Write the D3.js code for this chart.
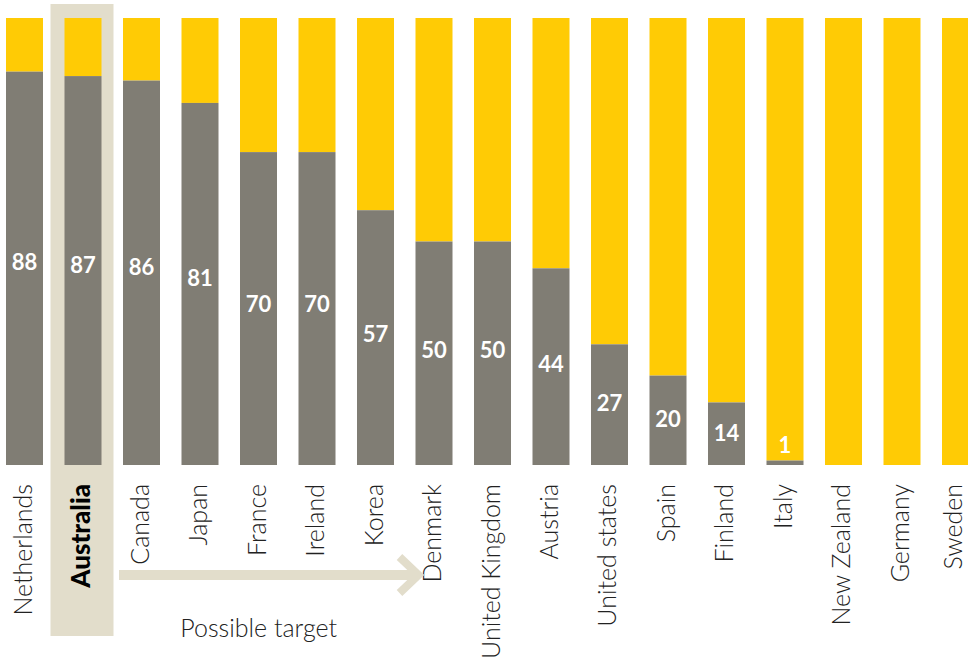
<!DOCTYPE html>
<html>
<head>
<meta charset="utf-8">
<script src="https://cdn.jsdelivr.net/npm/d3@7"></script>
<style>
  html, body { margin: 0; padding: 0; background: #ffffff; overflow: hidden; }
  svg { display: block; }
</style>
</head>
<body>
<svg id="chart" width="968" height="661"></svg>
<script>
// Share of each country's target (grey) and the remainder to 100 (yellow)
const countries = ["Netherlands", "Australia", "Canada", "Japan", "France", "Ireland", "Korea",
  "Denmark", "United Kingdom", "Austria", "United states", "Spain", "Finland", "Italy",
  "New Zealand", "Germany", "Sweden"];
const values = [88, 87, 86, 81, 70, 70, 57, 50, 50, 44, 27, 20, 14, 1, 0, 0, 0];
const highlighted = "Australia";
const arrowFrom = "Canada";
const arrowTo = "Denmark";
const arrowLabel = "Possible target";

const GREY = "#807d74";
const YELLOW = "#ffcb05";
const BEIGE = "#e2ddcb";
const FONT = "Lato, 'Open Sans', sans-serif";
const W = 968;

const svg = d3.select("#chart");

const x = d3.scaleBand()
  .domain(countries)
  .range([6, 979])
  .paddingInner(0.3675)
  .paddingOuter(0);

const y = d3.scaleLinear().domain([0, 100]).range([465, 18]);

const rows = countries.map((c, i) => ({ country: c, value: values[i] }));

// Highlight panel behind the selected country
const hx = x(highlighted);
svg.append("rect")
  .attr("x", hx - 14)
  .attr("y", 4)
  .attr("width", x.bandwidth() + 26)
  .attr("height", 632)
  .attr("fill", BEIGE);

// Remainder (yellow) on top of each bar
svg.append("g").selectAll("rect")
  .data(rows)
  .join("rect")
  .attr("x", d => x(d.country))
  .attr("width", x.bandwidth())
  .attr("y", y(100))
  .attr("height", d => y(d.value) - y(100))
  .attr("fill", YELLOW);

// Value portion (grey)
svg.append("g").selectAll("rect")
  .data(rows.filter(d => d.value > 0))
  .join("rect")
  .attr("x", d => x(d.country))
  .attr("width", x.bandwidth())
  .attr("y", d => y(d.value))
  .attr("height", d => y(0) - y(d.value))
  .attr("fill", GREY);

// Value labels inside the grey portion (or just above it when too short)
svg.append("g").selectAll("text")
  .data(rows.filter(d => d.value > 0))
  .join("text")
  .attr("x", d => x(d.country) + x.bandwidth() / 2)
  .attr("y", d => d.value < 5 ? y(d.value) - 15 : y(d.value) + (y(0) - y(d.value)) * 0.485)
  .attr("dy", "0.36em")
  .attr("text-anchor", "middle")
  .attr("fill", "#ffffff")
  .attr("font-family", FONT)
  .attr("font-weight", 700)
  .attr("font-size", 22)
  .text(d => d.value);

// Rotated category labels (kept inside the drawing area at the right edge)
svg.append("g").selectAll("text")
  .data(countries)
  .join("text")
  .attr("transform", d => `translate(${Math.min(x(d) + x.bandwidth() / 2 - 2, W - 15)},484) rotate(-90)`)
  .attr("dy", "0.36em")
  .attr("text-anchor", "end")
  .attr("fill", d => d === highlighted ? "#000000" : "#222222")
  .attr("font-family", FONT)
  .attr("font-weight", d => d === highlighted ? 900 : 300)
  .attr("font-size", d => d === highlighted ? 26 : 25)
  .text(d => d);

// "Possible target" arrow
const ax0 = x(arrowFrom) - 4;
const ax1 = x(arrowTo) + 3;
const ay = 575;
svg.append("line")
  .attr("x1", ax0).attr("x2", ax1 - 3)
  .attr("y1", ay).attr("y2", ay)
  .attr("stroke", BEIGE)
  .attr("stroke-width", 10);
svg.append("path")
  .attr("d", `M${ax1 - 19},${ay - 18} L${ax1},${ay} L${ax1 - 19},${ay + 18}`)
  .attr("fill", "none")
  .attr("stroke", BEIGE)
  .attr("stroke-width", 8);
svg.append("text")
  .attr("x", (ax0 + ax1) / 2 - 10)
  .attr("y", 637)
  .attr("text-anchor", "middle")
  .attr("fill", "#222222")
  .attr("font-family", FONT)
  .attr("font-weight", 300)
  .attr("font-size", 25)
  .text(arrowLabel);
</script>
</body>
</html>
